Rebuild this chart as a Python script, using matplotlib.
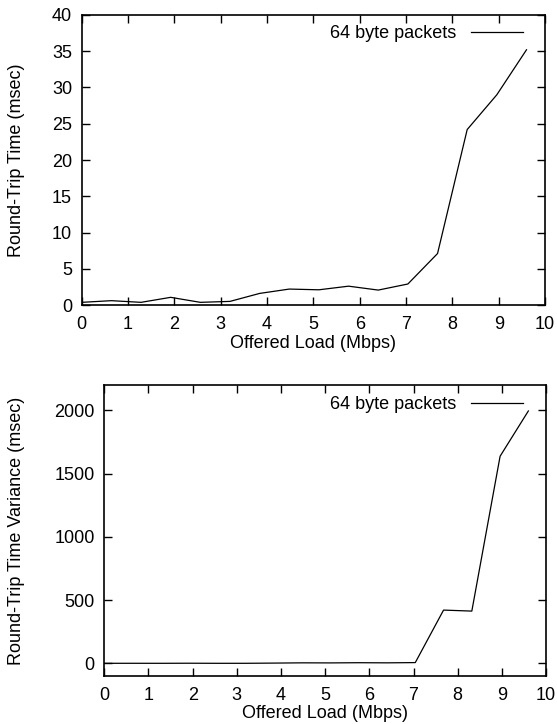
import matplotlib
matplotlib.use("Agg")
import matplotlib.pyplot as plt

load = [0.0, 0.64, 1.28, 1.92, 2.56, 3.2, 3.84, 4.48, 5.12, 5.76, 6.4, 7.04, 7.68, 8.32, 8.96, 9.6]
rtt = [0.37, 0.6, 0.37, 1.06, 0.37, 0.5, 1.6, 2.2, 2.1, 2.6, 2.06, 2.9, 7.1, 24.2, 29.0, 35.2]
rtt_var = [0.3, 0.5, 0.3, 1.0, 0.3, 0.4, 2.0, 4.0, 3.5, 5.0, 4.0, 6.0, 421, 413, 1637, 1995]
label = "64 byte packets"

plt.rcParams["font.family"] = ["Liberation Sans", "DejaVu Sans"]
plt.rcParams["font.size"] = 13

fig = plt.figure(figsize=(5.57, 7.24), dpi=100)
ax1 = fig.add_axes([0.1467, 0.5787, 0.8318, 0.4006])
ax2 = fig.add_axes([0.1873, 0.0663, 0.7930, 0.4019])

for ax, ys, ylab, yl, yt, lx, anchor in [
    (ax1, rtt, "Round-Trip Time (msec)", (0, 40), range(0, 41, 5), -0.122, (0.9525, 0.965)),
    (ax2, rtt_var, "Round-Trip Time Variance (msec)", (-100, 2200), range(0, 2001, 500), -0.18, (0.948, 0.962)),
]:
    ax.plot(load, ys, color="black", lw=0.9, label=label)
    ax.set_xlim(0, 10)
    ax.set_ylim(*yl)
    ax.set_xticks(range(0, 11))
    ax.set_yticks(list(yt))
    ax.tick_params(direction="in", top=True, right=True, length=6, width=1, colors="black")
    ax.tick_params(axis="y", pad=7)
    ax.tick_params(axis="x", pad=8)
    for s in ax.spines.values():
        s.set_linewidth(1.2)
    ax.set_xlabel("Offered Load (Mbps)", labelpad=1)
    ax.set_ylabel(ylab)
    ax.yaxis.set_label_coords(lx, 0.5)
    ax.legend(loc="upper right", bbox_to_anchor=anchor, frameon=False, markerfirst=False,
              handlelength=2.9, borderaxespad=0, borderpad=0, handletextpad=0.8)

fig.savefig("out.png", dpi=100)
